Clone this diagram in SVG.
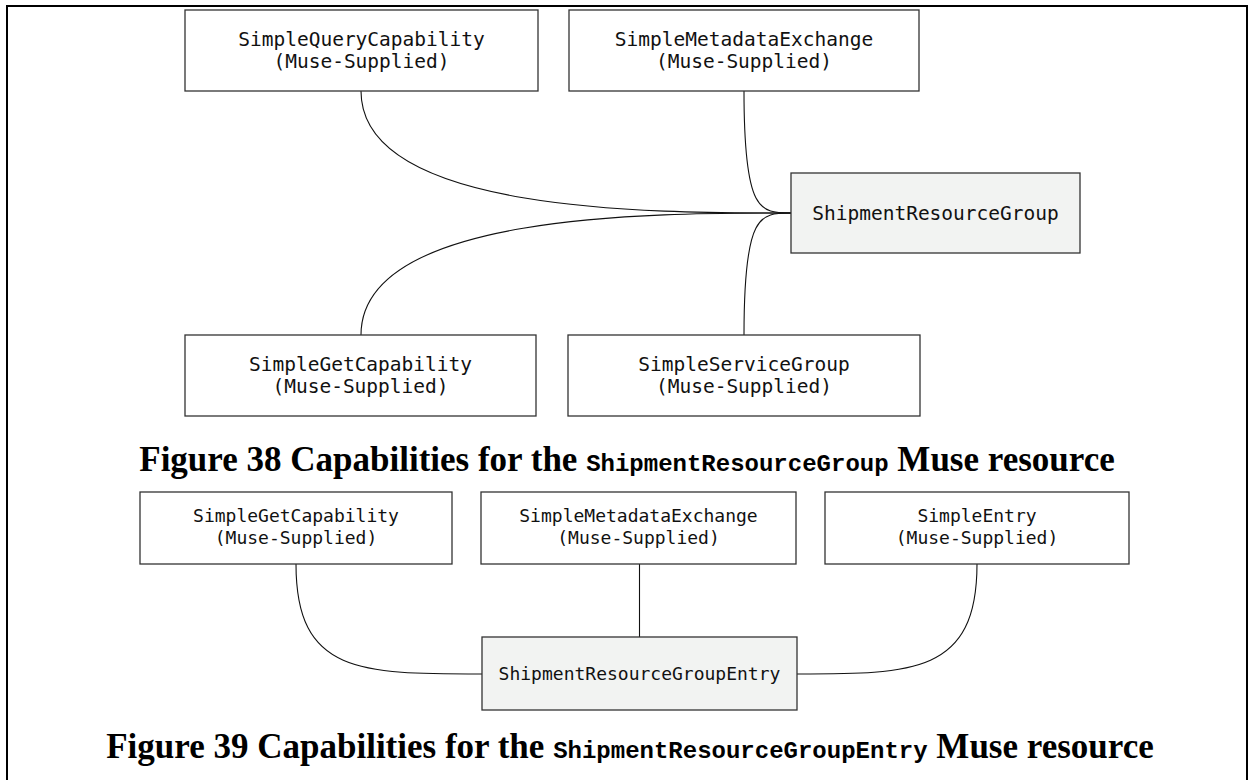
<svg xmlns="http://www.w3.org/2000/svg" width="1253" height="780" viewBox="0 0 1253 780">
<style>
.frame{fill:none;stroke:#000;stroke-width:2}
.box{fill:#fff;stroke:#333;stroke-width:1.3}
.main{fill:#f2f3f2;stroke:#333;stroke-width:1.3}
.lbl{font-family:"DejaVu Sans Mono","Liberation Mono",monospace;font-size:19.5px;fill:#111;text-anchor:middle}
.lbl2{font-family:"DejaVu Sans Mono","Liberation Mono",monospace;font-size:18px;fill:#111;text-anchor:middle}
.conn path{fill:none;stroke:#111;stroke-width:1.1}
.cap{font-family:"Liberation Serif",serif;font-weight:bold;font-size:35px;fill:#000;text-anchor:middle}
.capm{font-family:"Liberation Mono",monospace;font-weight:bold;font-size:24px}
</style>
<rect class="frame" x="7" y="6" width="1240" height="800"/>
<g id="connectors" class="conn">
<path d="M361,91 C361,213 650,213 791,213"/>
<path d="M361,335 C361,213 650,213 791,213"/>
<path d="M744,91 C744,213 760,213 791,213"/>
<path d="M744,335 C744,213 760,213 791,213"/>
<path d="M296,564 C296,674 360,674 482,674"/>
<path d="M639.5,564 L639.5,637"/>
<path d="M977,564 C977,674 913,674 797,674"/>
</g>
<g id="n-query"><rect class="box" x="185" y="10" width="353" height="81"/><text class="lbl" x="361.5" y="46">SimpleQueryCapability</text><text class="lbl" x="361.5" y="68">(Muse-Supplied)</text></g>
<g id="n-meta"><rect class="box" x="569" y="10" width="350" height="81"/><text class="lbl" x="744" y="46">SimpleMetadataExchange</text><text class="lbl" x="744" y="68">(Muse-Supplied)</text></g>
<g id="n-srg"><rect class="main" x="791" y="173" width="289" height="80"/><text class="lbl" x="935.5" y="220">ShipmentResourceGroup</text></g>
<g id="n-get"><rect class="box" x="185" y="335" width="351" height="81"/><text class="lbl" x="360.5" y="371">SimpleGetCapability</text><text class="lbl" x="360.5" y="393">(Muse-Supplied)</text></g>
<g id="n-svc"><rect class="box" x="568" y="335" width="352" height="81"/><text class="lbl" x="744" y="371">SimpleServiceGroup</text><text class="lbl" x="744" y="393">(Muse-Supplied)</text></g>
<text id="cap38" class="cap" x="627" y="471">Figure 38 Capabilities for the <tspan class="capm">ShipmentResourceGroup</tspan> Muse resource</text>
<g id="n-get2"><rect class="box" x="140" y="492" width="312" height="72"/><text class="lbl2" x="296" y="522">SimpleGetCapability</text><text class="lbl2" x="296" y="544">(Muse-Supplied)</text></g>
<g id="n-meta2"><rect class="box" x="481" y="492" width="315" height="72"/><text class="lbl2" x="638.5" y="522">SimpleMetadataExchange</text><text class="lbl2" x="638.5" y="544">(Muse-Supplied)</text></g>
<g id="n-entry"><rect class="box" x="825" y="492" width="304" height="72"/><text class="lbl2" x="977" y="522">SimpleEntry</text><text class="lbl2" x="977" y="544">(Muse-Supplied)</text></g>
<g id="n-srge"><rect class="main" x="482" y="637" width="315" height="73"/><text class="lbl2" x="639.5" y="680">ShipmentResourceGroupEntry</text></g>
<text id="cap39" class="cap" x="630" y="758">Figure 39 Capabilities for the <tspan class="capm">ShipmentResourceGroupEntry</tspan> Muse resource</text>
</svg>
